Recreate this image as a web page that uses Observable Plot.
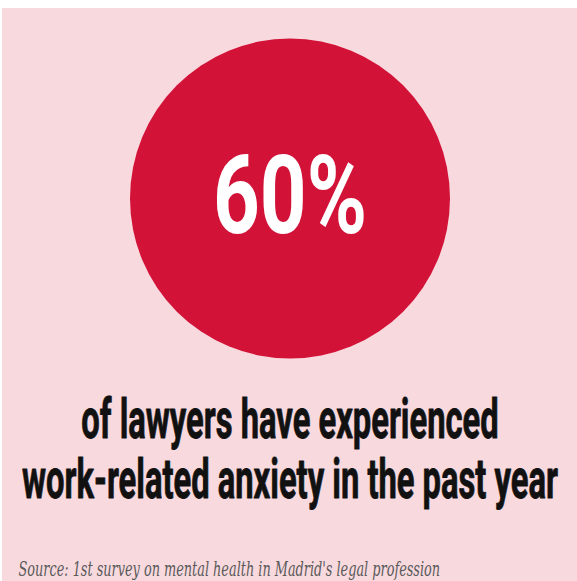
<!DOCTYPE html>
<html><head><meta charset="utf-8">
<script src="https://cdn.jsdelivr.net/npm/d3@7"></script>
<script src="https://cdn.jsdelivr.net/npm/@observablehq/plot@0.6"></script>
<style>
html,body{margin:0;padding:0;background:#fff;}
#chart{position:absolute;left:2px;top:8px;width:575px;height:573px;background:#f8d9de;overflow:hidden;}
</style></head><body><div id="chart"></div>
<script>
// Data
const statValue = [60];
const statUnit = ["%"];
const headlineLines = ["of lawyers have experienced", "work-related anxiety in the past year"];
const sourceNote = ["Source: 1st survey on mental health in Madrid's legal profession"];

const pink = "#f8d9de", red = "#d31238", ink = "#111111";

const plot = Plot.plot({
  width: 575, height: 573, margin: 0,
  style: {background: pink, overflow: "visible"},
  marks: [
    Plot.dot(statValue, {frameAnchor: "top", dy: 190, r: 160, fill: red, stroke: "none"}),
    Plot.text(statValue, {
      text: d => d + statUnit[0], frameAnchor: "top", dy: 224, lineAnchor: "bottom",
      fontSize: 109, fontWeight: 700, fontFamily: "Roboto", fill: "#ffffff"
    }),
    Plot.text([headlineLines.join("\n")], {
      text: d => d, frameAnchor: "top", dy: 489, lineAnchor: "bottom", lineHeight: 1.07,
      fontSize: 56, fontWeight: 700, fontFamily: "Roboto", fill: ink,
      stroke: ink, strokeWidth: 0.9, paintOrder: "stroke"
    }),
    Plot.text(sourceNote, {
      text: d => d, frameAnchor: "bottom-left", dx: 16, dy: -6, lineAnchor: "bottom", textAnchor: "start",
      fontSize: 20, fontStyle: "italic", fontFamily: "DejaVu Serif", fill: "#5a5a5a"
    })
  ]
});
document.getElementById("chart").appendChild(plot);

// horizontal condensing to mimic a condensed typeface (target widths in px)
const targets = [154, 536, 422];
const groups = plot.querySelectorAll('g[aria-label="text"]');
groups.forEach((g, i) => {
  g.querySelectorAll("text").forEach(t => {
    const spans = t.querySelectorAll("tspan");
    let w = 0;
    if (spans.length) spans.forEach(s => { w = Math.max(w, s.getComputedTextLength()); });
    else w = t.getComputedTextLength();
    const sx = targets[i] / w;
    t.setAttribute("transform", (t.getAttribute("transform") || "") + ` scale(${sx},1)`);
  });
});
</script></body></html>
